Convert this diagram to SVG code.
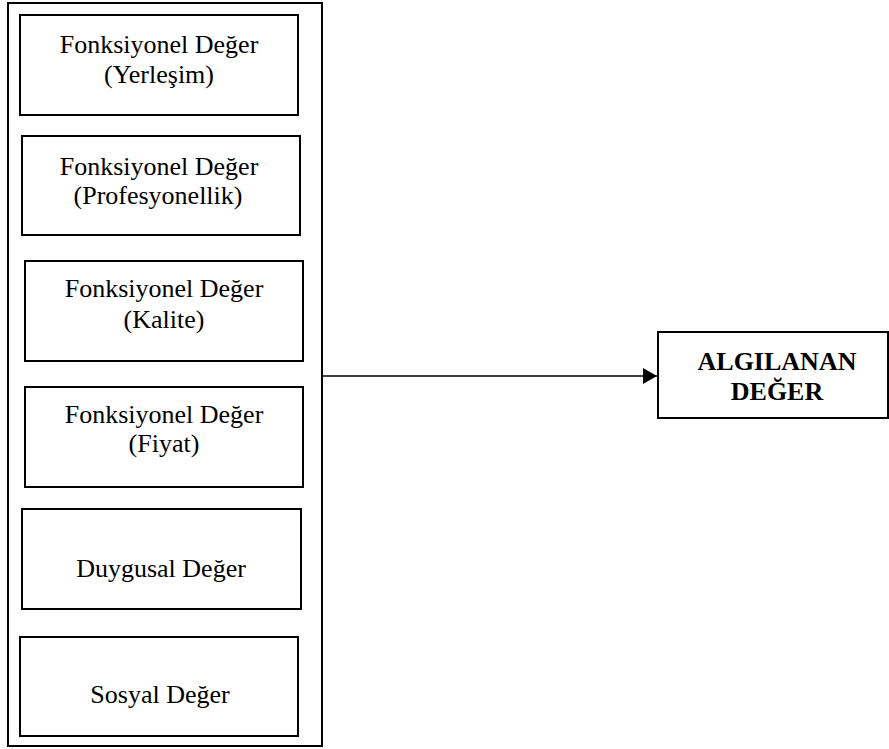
<svg xmlns="http://www.w3.org/2000/svg" width="889" height="749" viewBox="0 0 889 749">
<defs>
<style>
.box{fill:#fff;stroke:#000;stroke-width:2}
.outer{fill:#fff;stroke:#000;stroke-width:2}
.t{font-family:"Liberation Serif","Times New Roman",serif;font-size:26px;fill:#000;text-anchor:middle}
.b{font-weight:bold}
.edge{stroke:#000;stroke-width:1.6;fill:none}
</style>
<marker id="arr" markerWidth="16" markerHeight="18" refX="14" refY="8" orient="auto" markerUnits="userSpaceOnUse">
<path d="M0,0 L14,8 L0,16 Z" fill="#000"/>
</marker>
</defs>
<rect width="889" height="749" fill="#fff"/>
<g id="group">
<rect class="outer" x="8" y="3" width="314" height="743"/>
</g>
<g id="n1">
<rect class="box" x="20" y="15" width="278" height="100"/>
<text class="t" x="159" y="53">Fonksiyonel Değer</text>
<text class="t" x="159" y="83">(Yerleşim)</text>
</g>
<g id="n2">
<rect class="box" x="22" y="136" width="278" height="99"/>
<text class="t" x="159" y="175">Fonksiyonel Değer</text>
<text class="t" x="158" y="204">(Profesyonellik)</text>
</g>
<g id="n3">
<rect class="box" x="25" y="261" width="278" height="100"/>
<text class="t" x="164" y="297">Fonksiyonel Değer</text>
<text class="t" x="164" y="328">(Kalite)</text>
</g>
<g id="n4">
<rect class="box" x="25" y="387" width="278" height="100"/>
<text class="t" x="164" y="423">Fonksiyonel Değer</text>
<text class="t" x="164" y="452">(Fiyat)</text>
</g>
<g id="n5">
<rect class="box" x="22" y="509" width="279" height="100"/>
<text class="t" x="161" y="577">Duygusal Değer</text>
</g>
<g id="n6">
<rect class="box" x="20" y="637" width="278" height="99"/>
<text class="t" x="160" y="703">Sosyal Değer</text>
</g>
<g id="n7">
<rect class="box" x="658" y="332" width="230" height="86"/>
<text class="t b" x="777" y="370">ALGILANAN</text>
<text class="t b" x="777" y="400">DEĞER</text>
</g>
<g id="connectors">
<line class="edge" x1="322" y1="376" x2="657" y2="376" marker-end="url(#arr)"/>
</g>
</svg>
